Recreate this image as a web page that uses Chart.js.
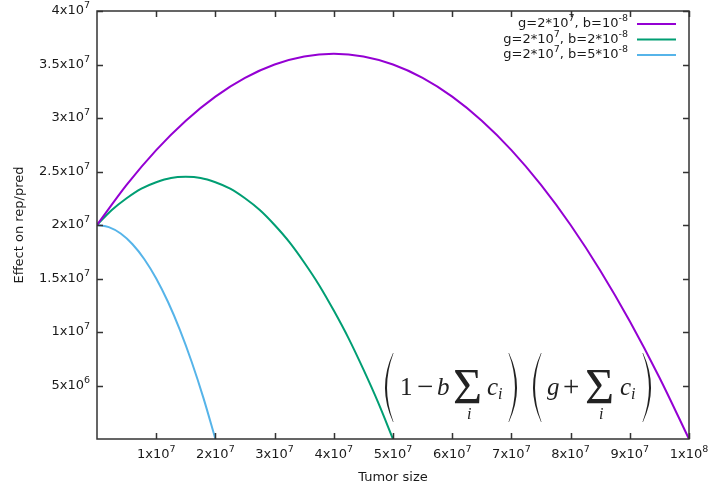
<!DOCTYPE html>
<html>
<head>
<meta charset="utf-8">
<script src="https://cdn.jsdelivr.net/npm/chart.js@4"></script>
<style>
  html, body { margin: 0; background: #fff; }
  #wrap { width: 714px; height: 492px; }
</style>
</head>
<body>
<div id="wrap"><canvas id="chart" width="714" height="492"></canvas></div>
<script>
// Effect on rep/pred vs tumor size, g = 2*10^7 for all three curves
const sizesB1 = [0, 5e6, 1e7, 1.5e7, 2e7, 2.5e7, 3e7, 3.5e7, 4e7, 4.5e7, 5e7,
                 5.5e7, 6e7, 6.5e7, 7e7, 7.5e7, 8e7, 8.5e7, 9e7, 9.5e7, 1e8];
const effectB1 = [2.0e7, 2.375e7, 2.7e7, 2.975e7, 3.2e7, 3.375e7, 3.5e7, 3.575e7, 3.6e7, 3.575e7, 3.5e7,
                  3.375e7, 3.2e7, 2.975e7, 2.7e7, 2.375e7, 2.0e7, 1.575e7, 1.1e7, 0.575e7, 0];

const sizesB2 = [0, 2.5e6, 5e6, 7.5e6, 1e7, 1.25e7, 1.5e7, 1.75e7, 2e7, 2.25e7, 2.5e7,
                 2.75e7, 3e7, 3.25e7, 3.5e7, 3.75e7, 4e7, 4.25e7, 4.5e7, 4.75e7, 5e7];
const effectB2 = [2.0e7, 2.14e7, 2.25e7, 2.34e7, 2.4e7, 2.44e7, 2.45e7, 2.44e7, 2.4e7, 2.34e7, 2.25e7,
                  2.14e7, 2.0e7, 1.84e7, 1.65e7, 1.44e7, 1.2e7, 0.94e7, 0.65e7, 0.34e7, 0];

const sizesB5 = [0, 2e6, 4e6, 6e6, 8e6, 1e7, 1.2e7, 1.4e7, 1.6e7, 1.8e7, 2e7];
const effectB5 = [2.0e7, 1.98e7, 1.92e7, 1.82e7, 1.68e7, 1.5e7, 1.28e7, 1.02e7, 0.72e7, 0.38e7, 0];

const seriesLabels = ['g=2*10^7, b=10^-8', 'g=2*10^7, b=2*10^-8', 'g=2*10^7, b=5*10^-8'];
const seriesColors = ['#9400d3', '#009e73', '#56b4e9'];

const xTickValues = [1e7, 2e7, 3e7, 4e7, 5e7, 6e7, 7e7, 8e7, 9e7, 1e8];
const xTickLabels = ['1x10^7', '2x10^7', '3x10^7', '4x10^7', '5x10^7',
                     '6x10^7', '7x10^7', '8x10^7', '9x10^7', '1x10^8'];
const yTickValues = [5e6, 1e7, 1.5e7, 2e7, 2.5e7, 3e7, 3.5e7, 4e7];
const yTickLabels = ['5x10^6', '1x10^7', '1.5x10^7', '2x10^7', '2.5x10^7', '3x10^7', '3.5x10^7', '4x10^7'];

const xTitle = 'Tumor size';
const yTitle = 'Effect on rep/pred';

const BASE_FONT = '13px "DejaVu Sans"';
const SUP_FONT = '9.5px "DejaVu Sans"';
const TEXT_COLOR = '#1a1a1a';

// split "1x10^7" into normal / superscript runs
function parts(str) {
  return str.split(/\^(-?\d+)/)
    .map((t, i) => ({ t, sup: i % 2 === 1 }))
    .filter(p => p.t);
}

function drawRich(ctx, str, x, y, align) {
  const ps = parts(str);
  let w = 0;
  ps.forEach(p => { ctx.font = p.sup ? SUP_FONT : BASE_FONT; w += ctx.measureText(p.t).width; });
  let cx = align === 'right' ? x - w : align === 'center' ? x - w / 2 : x;
  ctx.textAlign = 'left';
  ctx.textBaseline = 'middle';
  ps.forEach(p => {
    ctx.font = p.sup ? SUP_FONT : BASE_FONT;
    ctx.fillText(p.t, cx, p.sup ? y - 5 : y);
    cx += ctx.measureText(p.t).width;
  });
}

// big LaTeX-style parenthesis as a filled crescent
function paren(ctx, x0, top, bot, w, left) {
  const t = 1.8, tip = 0.5;
  const s = left ? 1 : -1;
  const mid = (top + bot) / 2;
  ctx.beginPath();
  ctx.moveTo(x0 + s * w, top);
  ctx.quadraticCurveTo(x0 - s * w, mid, x0 + s * w, bot);
  ctx.lineTo(x0 + s * (w + tip), bot);
  ctx.quadraticCurveTo(x0 + s * (2 * t - w), mid, x0 + s * (w + tip), top);
  ctx.closePath();
  ctx.fill();
}

function drawFormula(ctx) {
  const ox = 385, base = 395;
  ctx.fillStyle = '#222';
  ctx.textAlign = 'left';
  ctx.textBaseline = 'alphabetic';
  const roman = '25px "Liberation Serif"';
  const op = '29px "Liberation Serif"';
  const ital = 'italic 25px "Liberation Serif"';
  const sub = 'italic 16px "Liberation Serif"';
  const big = '50px "Liberation Serif"';
  const pieces = [
    ['1', 15, 0, roman], ['\u2212', 32, 1, op], ['b', 52, 0, ital],
    ['\u03a3', 68, 8, big], ['i', 82, 24, sub], ['c', 102, 0, ital], ['i', 113, 4, sub],
    ['g', 162, 0, ital], ['+', 178, 1, op],
    ['\u03a3', 200, 8, big], ['i', 214, 24, sub], ['c', 235, 0, ital], ['i', 246, 4, sub]
  ];
  pieces.forEach(([txt, dx, dy, font]) => {
    ctx.font = font;
    ctx.fillText(txt, ox + dx, base + dy);
  });
  paren(ctx, 385, 353, 422, 8, true);
  paren(ctx, 517, 353, 422, 8, false);
  paren(ctx, 533, 353, 422, 8, true);
  paren(ctx, 651, 353, 422, 8, false);
}

// gnuplot-like frame: box border, inward mirrored ticks, labels, key, formula
const frame = {
  id: 'frame',
  afterDatasetsDraw(chart) {
    const { ctx, chartArea: a, scales } = chart;
    ctx.save();
    ctx.strokeStyle = '#333';
    ctx.lineWidth = 1.5;
    ctx.beginPath();
    xTickValues.forEach(v => {
      const px = Math.round(scales.x.getPixelForValue(v)) + 0.5;
      ctx.moveTo(px, a.bottom); ctx.lineTo(px, a.bottom - 6);
      ctx.moveTo(px, a.top); ctx.lineTo(px, a.top + 6);
    });
    yTickValues.forEach(v => {
      const py = Math.round(scales.y.getPixelForValue(v)) + 0.5;
      ctx.moveTo(a.left, py); ctx.lineTo(a.left + 6, py);
      ctx.moveTo(a.right, py); ctx.lineTo(a.right - 6, py);
    });
    ctx.stroke();
    ctx.strokeRect(a.left, a.top, a.right - a.left, a.bottom - a.top);

    ctx.fillStyle = TEXT_COLOR;
    xTickValues.forEach((v, i) => drawRich(ctx, xTickLabels[i], scales.x.getPixelForValue(v), a.bottom + 16, 'center'));
    yTickValues.forEach((v, i) => drawRich(ctx, yTickLabels[i], a.left - 7, scales.y.getPixelForValue(v), 'right'));

    ctx.font = BASE_FONT;
    ctx.textAlign = 'center';
    ctx.textBaseline = 'middle';
    ctx.fillText(xTitle, (a.left + a.right) / 2, 478);
    ctx.save();
    ctx.translate(20, (a.top + a.bottom) / 2);
    ctx.rotate(-Math.PI / 2);
    ctx.fillText(yTitle, 0, 0);
    ctx.restore();

    // key in the top right corner
    chart.data.datasets.forEach((ds, i) => {
      const y = 24 + i * 15.5;
      ctx.fillStyle = TEXT_COLOR;
      drawRich(ctx, seriesLabels[i], 628, y, 'right');
      ctx.strokeStyle = ds.borderColor;
      ctx.lineWidth = 2;
      ctx.beginPath();
      ctx.moveTo(637, y); ctx.lineTo(676, y);
      ctx.stroke();
    });

    drawFormula(ctx);
    ctx.restore();
  }
};

const series = [[sizesB1, effectB1], [sizesB2, effectB2], [sizesB5, effectB5]];

new Chart(document.getElementById('chart'), {
  type: 'scatter',
  data: {
    datasets: series.map(([xs, ys], i) => ({
      label: seriesLabels[i],
      data: xs.map((x, j) => ({ x, y: ys[j] })),
      showLine: true,
      borderColor: seriesColors[i],
      borderWidth: 2,
      pointRadius: 0,
      cubicInterpolationMode: 'monotone',
      fill: false
    }))
  },
  options: {
    responsive: false,
    animation: false,
    layout: { padding: { left: 97, top: 11, right: 25, bottom: 53 } },
    plugins: { legend: { display: false }, tooltip: { enabled: false } },
    scales: {
      x: { type: 'linear', min: 0, max: 1e8, display: false },
      y: { type: 'linear', min: 0, max: 4e7, display: false }
    }
  },
  plugins: [frame]
});
</script>
</body>
</html>
